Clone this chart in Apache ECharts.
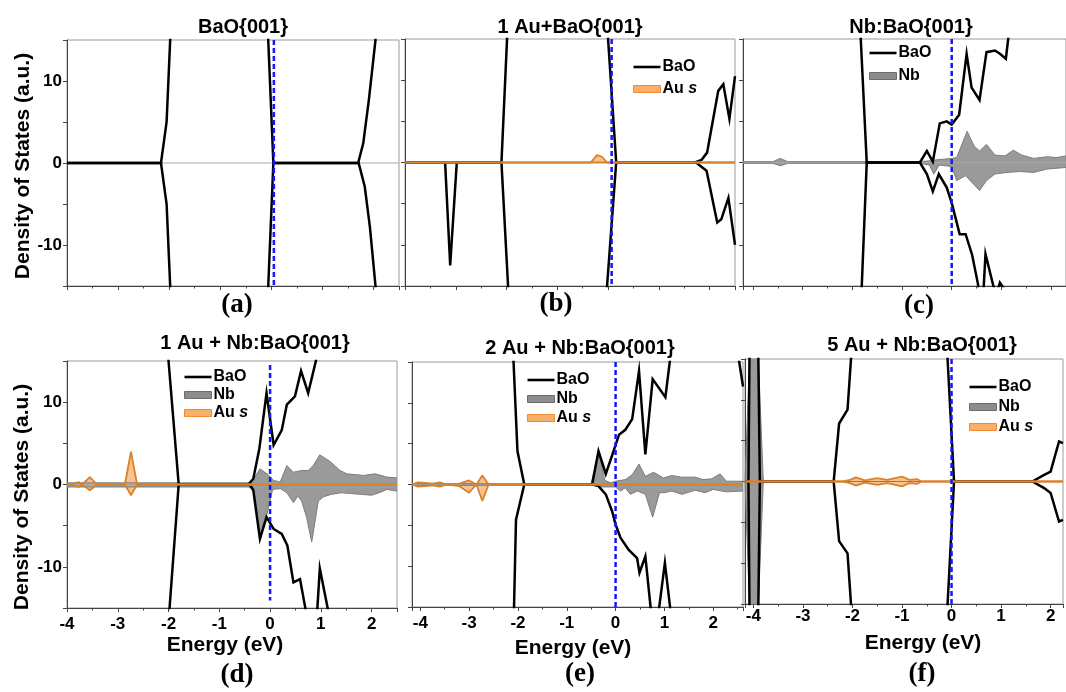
<!DOCTYPE html>
<html>
<head>
<meta charset="utf-8">
<script src="https://cdn.jsdelivr.net/npm/echarts@6/dist/echarts.min.js"></script>
<style>
  html, body { margin: 0; padding: 0; background: #fff; }
  #chart { width: 1066px; height: 692px; }
</style>
</head>
<body>
<div id="chart"></div>
<script>
// ---- data: [energy (eV), DOS] ----
// (a) BaO{001}
const aBaOUp = [[-4, 0], [-2.16, 0], [-2.05, 5.0], [-1.98, 15], [-1.9, 40], [-0.15, 40], [-0.06, 15], [0.04, 0], [1.70, 0], [1.80, 2.4], [1.91, 7.7], [2.04, 15], [2.1, 40], [2.5, 40]];
const aBaODn = [[-4, 0], [-2.16, 0], [-2.05, -5.0], [-1.98, -15], [-1.9, -40], [-0.15, -40], [-0.06, -15], [0.04, 0], [1.71, 0], [1.83, -2.9], [1.93, -7.8], [2.04, -15], [2.1, -40], [2.5, -40]];
const aFermi = [[0.05, 15], [0.05, -15]];

// (b) 1 Au+BaO{001}
const bBaOUp = [[-4, 0], [-2.10, 0], [-1.99, 15], [-1.9, 40], [-0.1, 40], [0.0, 15], [0.16, 0], [1.71, 0], [1.84, 0.3], [1.95, 1.2], [2.17, 8.7], [2.27, 9.5], [2.39, 5.3], [2.5, 10.5]];
const bBaODn = [[-4, 0], [-3.21, 0], [-3.11, -12.5], [-2.98, 0], [-2.10, 0], [-1.97, -15], [-1.9, -40], [-0.1, -40], [-0.02, -15], [0.16, 0], [1.73, 0], [1.94, -1.0], [2.15, -7.3], [2.23, -6.9], [2.37, -4.3], [2.5, -10]];
const bAuUp = [[-4, 0], [-0.34, 0], [-0.22, 0.9], [-0.12, 0.7], [-0.02, 0], [2.5, 0]];
const bAuDn = [[-4, 0], [2.5, 0]];
const bFermi = [[0.07, 15], [0.07, -15]];

// (c) Nb:BaO{001}
const cBaOUp = [[-1.95, 40], [-1.83, 15], [-1.71, 0], [-0.64, 0], [-0.5, 1.4], [-0.38, 0.1], [-0.24, 4.75], [-0.1, 5.0], [0, 4.6], [0.15, 5.8], [0.3, 13.2], [0.4, 9.1], [0.56, 7.6], [0.7, 13.4], [0.87, 13.6], [0.97, 13.2], [1.09, 12.6], [1.14, 15.2], [1.2, 40], [2.3, 40]];
const cBaODn = [[-1.95, -40], [-1.81, -15], [-1.71, 0], [-0.64, 0], [-0.5, -1.4], [-0.38, -3.5], [-0.26, -1.4], [-0.1, -3.05], [0, -4.9], [0.16, -8.7], [0.28, -8.7], [0.41, -11.2], [0.53, -14.8], [0.6, -20], [0.68, -11.1], [0.83, -14.8], [0.9, -16], [0.97, -14.6], [1.05, -15.3], [1.1, -40], [2.3, -40]];
const cNbUp = [[-4.2, 0.1], [-3.6, 0.1], [-3.45, 0.5], [-3.3, 0.1], [-0.64, 0.1], [-0.45, 0.2], [-0.34, 0.3], [0, 0.5], [0.1, 0.6], [0.31, 3.8], [0.45, 2.0], [0.56, 1.4], [0.7, 2.2], [0.87, 0.9], [1.07, 0.8], [1.24, 1.5], [1.41, 0.9], [1.65, 0.5], [1.92, 0.7], [2.1, 0.6], [2.3, 0.8]];
const cNbDn = [[-4.2, -0.1], [-3.6, -0.1], [-3.45, -0.4], [-3.3, -0.1], [-0.64, -0.1], [-0.45, -0.3], [-0.36, -1.4], [-0.25, -0.3], [0, -0.5], [0.1, -2.2], [0.28, -1.6], [0.56, -3.4], [0.7, -2.2], [0.87, -1.4], [1.11, -1.2], [1.38, -1.1], [1.65, -1.2], [1.92, -0.8], [2.3, -0.6]];
const cFermi = [[0, 15], [0, -15]];

// (d) 1 Au + Nb:BaO{001}
const dBaOUp = [[-2.1, 40], [-2.0, 15], [-1.8, 0], [-0.43, 0], [-0.33, 0.7], [-0.21, 4.4], [-0.07, 11.1], [0.07, 4.8], [0.23, 6.6], [0.33, 9.7], [0.49, 10.7], [0.61, 13.8], [0.75, 11.1], [0.91, 15.2], [1.0, 40], [2.5, 40]];
const dBaODn = [[-2.1, -40], [-1.98, -15], [-1.8, 0], [-0.4, 0], [-0.33, -0.7], [-0.2, -6.6], [-0.07, -3.95], [0.07, -5.4], [0.23, -6.0], [0.34, -7.4], [0.46, -11.9], [0.59, -11.5], [0.70, -15.2], [0.8, -25], [0.93, -15.2], [0.98, -10.2], [1.15, -15.5], [1.3, -40], [2.5, -40]];
const dNbUp = [[-4, 0.2], [-1.8, 0.2], [-0.43, 0.2], [-0.36, 0.3], [-0.2, 1.9], [-0.04, 1.2], [0.07, 0.5], [0.2, 0.3], [0.33, 2.3], [0.46, 1.5], [0.62, 1.7], [0.75, 1.7], [0.85, 2.3], [0.98, 3.6], [1.18, 2.8], [1.38, 1.7], [1.51, 1.3], [1.67, 1.2], [1.84, 1.1], [2.07, 1.3], [2.3, 0.9], [2.5, 0.8]];
const dNbDn = [[-4, -0.3], [-1.8, -0.3], [-0.43, -0.3], [-0.33, -0.6], [-0.2, -6.5], [-0.07, -3.8], [0.05, -0.6], [0.2, -0.5], [0.33, -1.0], [0.46, -2.2], [0.55, -1.4], [0.62, -2.0], [0.72, -4.0], [0.82, -7.0], [0.95, -2.0], [1.05, -1.5], [1.2, -1.2], [1.4, -1.0], [1.6, -1.1], [1.8, -1.2], [2.0, -1.3], [2.15, -1.0], [2.3, -0.6], [2.5, -0.8]];
const dAuUp = [[-4, 0], [-3.85, 0.15], [-3.77, 0.3], [-3.7, 0], [-3.55, 0.9], [-3.41, 0], [-2.86, 0], [-2.74, 4.0], [-2.62, 0], [2.5, 0]];
const dAuDn = [[-4, 0], [-3.85, -0.15], [-3.77, -0.3], [-3.7, 0], [-3.55, -0.7], [-3.41, 0], [-2.86, 0], [-2.74, -1.3], [-2.62, 0], [2.5, 0]];
const dFermi = [[0, 14.5], [0, -14.1]];

// (e) 2 Au + Nb:BaO{001}
const eBaOUp = [[-2.2, 40], [-2.09, 15], [-2.01, 4.1], [-1.87, 0], [-0.48, 0], [-0.35, 4.1], [-0.2, 1.3], [-0.03, 4.3], [0.07, 6.1], [0.2, 6.7], [0.34, 8.0], [0.48, 13.9], [0.61, 3.7], [0.76, 12.9], [1.02, 10.7], [1.12, 15.5], [1.2, 40], [2.4, 40], [2.52, 15.5], [2.61, 12]];
const eBaODn = [[-2.2, -40], [-2.08, -15], [-2.04, -4.3], [-1.87, 0], [-0.45, 0], [-0.35, -0.2], [-0.2, -1.2], [-0.07, -3.3], [0, -4.9], [0.1, -6.5], [0.27, -8.0], [0.44, -9.0], [0.49, -10.8], [0.61, -8.8], [0.72, -15.2], [0.8, -25], [0.89, -15.2], [1.01, -9.6], [1.12, -15.2], [1.25, -40], [2.61, -40]];
const eNbUp = [[-4.17, 0.1], [-0.5, 0.1], [-0.48, 0.3], [-0.35, 4.1], [-0.22, 0.5], [-0.1, 0.2], [0, 0.4], [0.2, 0.6], [0.34, 1.2], [0.48, 2.5], [0.61, 1.0], [0.78, 1.5], [0.98, 0.8], [1.15, 1.1], [1.35, 0.9], [1.63, 0.9], [1.79, 0.6], [1.97, 0.7], [2.14, 1.3], [2.27, 0.4], [2.61, 0.4]];
const eNbDn = [[-4.17, -0.1], [-0.5, -0.1], [-0.3, -0.3], [0, -0.3], [0.1, -0.8], [0.2, -0.4], [0.3, -1.2], [0.45, -0.8], [0.61, -1.2], [0.76, -4.0], [0.9, -1.0], [1.0, -1.0], [1.15, -0.8], [1.36, -1.2], [1.63, -0.7], [1.83, -1.0], [2.0, -0.6], [2.27, -0.9], [2.61, -0.8]];
const eAuUp = [[-4.17, 0], [-4.05, 0.25], [-3.9, 0.2], [-3.75, 0.1], [-3.6, 0.25], [-3.45, 0], [-3.2, 0.1], [-3.0, 0.5], [-2.85, 0], [-2.73, 1.1], [-2.6, 0], [2.61, 0]];
const eAuDn = [[-4.17, 0], [-4.05, -0.25], [-3.9, -0.2], [-3.75, -0.1], [-3.6, -0.25], [-3.45, 0], [-3.2, -0.2], [-3.0, -1.0], [-2.85, 0], [-2.73, -2.0], [-2.6, 0], [2.61, 0]];
const eFermi = [[0, 15], [0, -15]];

// (f) 5 Au + Nb:BaO{001}
const fBaOUp = [[-4.17, 0], [-4.1, 0], [-4.08, 15], [-4.06, 40], [-3.92, 40], [-3.9, 15], [-3.87, 0], [-2.38, 0], [-2.27, 7.1], [-2.1, 8.8], [-2.03, 15], [-1.95, 40], [-0.15, 40], [-0.08, 15], [0.05, 0], [1.63, 0], [1.87, 0.8], [2.0, 1.2], [2.17, 4.9], [2.25, 4.7]];
const fBaODn = [[-4.17, 0], [-4.1, 0], [-4.08, -15], [-4.06, -40], [-3.92, -40], [-3.9, -15], [-3.87, 0], [-2.38, 0], [-2.27, -7.3], [-2.1, -8.8], [-2.03, -15], [-1.95, -40], [-0.15, -40], [-0.08, -15], [0.05, 0], [1.63, 0], [1.87, -0.8], [2.0, -1.4], [2.17, -4.9], [2.25, -4.7]];
const fNbUp = [[-4.17, 0], [-4.16, 0], [-4.08, 15], [-3.99, 60], [-3.9, 15], [-3.8, 0], [2.25, 0]];
const fNbDn = [[-4.17, 0], [-4.16, 0], [-4.08, -15], [-3.99, -60], [-3.9, -15], [-3.8, 0], [2.25, 0]];
const fAuUp = [[-4.17, 0], [-2.2, 0], [-2.05, 0.2], [-1.93, 0.5], [-1.75, 0.15], [-1.5, 0.4], [-1.3, 0.2], [-1.0, 0.6], [-0.85, 0.2], [-0.7, 0.3], [-0.6, 0], [2.25, 0]];
const fAuDn = [[-4.17, 0], [-2.2, 0], [-2.05, -0.2], [-1.93, -0.5], [-1.75, -0.15], [-1.5, -0.4], [-1.3, -0.2], [-1.0, -0.6], [-0.85, -0.2], [-0.7, -0.3], [-0.6, 0], [2.25, 0]];
const fFermi = [[0, 15], [0, -15]];

const yTicks = [-10, 0, 10];

// ---- layout of the six panels ----
const panels = [
  { box: { left: 67, top: 40, width: 332, height: 246 }, xr: [-4, 2.5], xLab: false, yLab: true,
    bao: [aBaOUp, aBaODn], nb: null, au: null, ef: aFermi },
  { box: { left: 405, top: 39, width: 330, height: 247 }, xr: [-4, 2.5], xLab: false, yLab: false,
    bao: [bBaOUp, bBaODn], nb: null, au: [bAuUp, bAuDn], ef: bFermi,
    legend: { left: 633, top: 58, gap: 4, items: ['BaO', 'Au s'] } },
  { box: { left: 743, top: 39, width: 323, height: 247 }, xr: [-4.2, 2.3], xLab: false, yLab: false,
    bao: [cBaOUp, cBaODn], nb: [cNbUp, cNbDn], au: null, ef: cFermi,
    legend: { left: 869, top: 44, gap: 5, items: ['BaO', 'Nb'] } },
  { box: { left: 67, top: 361, width: 330, height: 247 }, xr: [-4, 2.5], xLab: true, yLab: true, labMargin: 8,
    bao: [dBaOUp, dBaODn], nb: [dNbUp, dNbDn], au: [dAuUp, dAuDn], ef: dFermi,
    legend: { left: 184, top: 368, gap: 0, items: ['BaO', 'Nb', 'Au s'] } },
  { box: { left: 412, top: 362, width: 331, height: 245 }, xr: [-4.17, 2.61], xLab: true, yLab: false, labMargin: 8,
    bao: [eBaOUp, eBaODn], nb: [eNbUp, eNbDn], au: [eAuUp, eAuDn], ef: eFermi,
    legend: { left: 527, top: 371, gap: 1, items: ['BaO', 'Nb', 'Au s'] } },
  { box: { left: 745, top: 359, width: 321, height: 245 }, xr: [-4.17, 2.25], xLab: true, yLab: false, labMargin: 4,
    bao: [fBaOUp, fBaODn], nb: [fNbUp, fNbDn], au: [fAuUp, fAuDn], ef: fFermi,
    legend: { left: 969, top: 378, gap: 2, items: ['BaO', 'Nb', 'Au s'] } }
];

const FONT = '"Liberation Sans", Arial, sans-serif';
const SERIF = '"Liberation Serif", "Times New Roman", serif';
const axisColor = '#444';

const grids = [], xAxes = [], yAxes = [], series = [], legends = [];

panels.forEach(function (p, i) {
  grids.push(Object.assign({ show: true, borderColor: '#9a9a9a', borderWidth: 1, containLabel: false }, p.box));

  const xAxis = {
    type: 'value', gridIndex: i, min: p.xr[0], max: p.xr[1],
    axisLine: { show: true, onZero: false, lineStyle: { color: axisColor, width: 1 } },
    axisTick: { show: true, length: 4, lineStyle: { color: axisColor } },
    minorTick: { show: true, splitNumber: 2, length: 2.5, lineStyle: { color: axisColor } },
    splitLine: { show: false },
    axisLabel: {
      show: p.xLab, margin: p.labMargin || 8, color: '#000', fontSize: 17, fontWeight: 'bold', fontFamily: FONT,
      formatter: function (v) { return Math.abs(v - Math.round(v)) < 1e-6 ? String(Math.round(v)) : ''; }
    }
  };
  if (p.xr[0] === -4) { xAxis.interval = 1; } else { xAxis.splitNumber = 7; }
  xAxes.push(xAxis);

  yAxes.push({
    type: 'value', gridIndex: i, min: -15, max: 15, interval: 5,
    axisLine: { show: true, onZero: false, lineStyle: { color: axisColor, width: 1 } },
    axisTick: { show: true, length: 4, lineStyle: { color: axisColor } },
    splitLine: { show: false },
    axisLabel: {
      show: p.yLab, margin: 5, color: '#000', fontSize: 17, fontWeight: 'bold', fontFamily: FONT,
      formatter: function (v) { return yTicks.indexOf(v) >= 0 ? String(v) : ''; }
    }
  });

  const base = { type: 'line', xAxisIndex: i, yAxisIndex: i, symbol: 'none', showSymbol: false, clip: true, silent: true, animation: false };

  // zero reference line
  series.push(Object.assign({}, base, {
    name: 'zero', data: [[p.xr[0], 0], [p.xr[1], 0]],
    lineStyle: { color: '#a8a8a8', width: 1 }
  }));

  if (p.nb) {
    p.nb.forEach(function (d) {
      series.push(Object.assign({}, base, {
        name: 'Nb', data: d,
        lineStyle: { color: '#7d7d7d', width: 1 },
        itemStyle: { color: '#8c8c8c' },
        areaStyle: { color: '#8f8f8f', opacity: 0.9 }
      }));
    });
  }
  p.bao.forEach(function (d) {
    series.push(Object.assign({}, base, {
      name: 'BaO', data: d,
      lineStyle: { color: '#000', width: 2.5, join: 'miter' },
      itemStyle: { color: '#000' }
    }));
  });
  if (p.au) {
    p.au.forEach(function (d) {
      series.push(Object.assign({}, base, {
        name: 'Au s', data: d,
        lineStyle: { color: '#d9822e', width: 1.8 },
        itemStyle: { color: '#f5a35a' },
        areaStyle: { color: '#f8a150', opacity: 0.65 }
      }));
    });
  }
  series.push(Object.assign({}, base, {
    name: 'EF', data: p.ef, z: 5,
    lineStyle: { color: '#1515ff', width: 2.5, type: [5, 3] }
  }));

  if (p.legend) {
    legends.push({
      show: true, orient: 'vertical', left: p.legend.left, top: p.legend.top,
      itemWidth: 27, itemHeight: 7, itemGap: p.legend.gap, padding: 0, selectedMode: false,
      symbolKeepAspect: true,
      textStyle: {
        color: '#000', fontSize: 16, fontWeight: 'bold', fontFamily: FONT, lineHeight: 18, padding: [0, 0, 0, -3],
        rich: { it: { fontStyle: 'italic', fontWeight: 'bold', fontSize: 16, fontFamily: FONT } }
      },
      formatter: function (name) { return name === 'Au s' ? 'Au {it|s}' : name; },
      data: p.legend.items.map(function (n) {
        if (n === 'BaO') return { name: n, icon: 'path://M0,0H27V2.6H0Z', itemStyle: { color: '#000', borderWidth: 0 } };
        if (n === 'Nb') return { name: n, icon: 'rect', itemStyle: { color: '#8c8c8c', borderColor: '#6e6e6e', borderWidth: 1 } };
        return { name: n, icon: 'rect', itemStyle: { color: '#f9ae6a', borderColor: '#ef8c35', borderWidth: 1 } };
      })
    });
  }
});

// ---- text labels ----
function txt(x, y, text, font, rot) {
  return {
    type: 'text', x: x, y: y, rotation: rot || 0, silent: true, z: 10,
    style: { text: text, font: font, fill: '#000', align: 'center', verticalAlign: 'middle' }
  };
}
const titleFont = 'bold 20px ' + FONT;
const nameFont = 'bold 21px ' + FONT;
const tagFont = 'bold 27px ' + SERIF;
const graphics = [
  txt(243, 27, 'BaO{001}', titleFont),
  txt(570, 27, '1 Au+BaO{001}', titleFont),
  txt(911, 27, 'Nb:BaO{001}', titleFont),
  txt(255, 343, '1 Au + Nb:BaO{001}', titleFont),
  txt(580, 348, '2 Au + Nb:BaO{001}', titleFont),
  txt(922, 345, '5 Au + Nb:BaO{001}', titleFont),
  txt(23, 166, 'Density of States (a.u.)', nameFont, Math.PI / 2),
  txt(22, 497, 'Density of States (a.u.)', nameFont, Math.PI / 2),
  txt(225, 645, 'Energy (eV)', nameFont),
  txt(573, 648, 'Energy (eV)', nameFont),
  txt(923, 643, 'Energy (eV)', nameFont),
  txt(237, 305, '(a)', tagFont),
  txt(556, 304, '(b)', tagFont),
  txt(919, 306, '(c)', tagFont),
  txt(237, 675, '(d)', tagFont),
  txt(580, 674, '(e)', tagFont),
  txt(922, 674, '(f)', tagFont)
];

const myChart = echarts.init(document.getElementById('chart'), null, { renderer: 'canvas' });
myChart.setOption({
  animation: false,
  backgroundColor: '#fff',
  grid: grids,
  xAxis: xAxes,
  yAxis: yAxes,
  legend: legends,
  series: series,
  graphic: graphics
});
</script>
</body>
</html>
